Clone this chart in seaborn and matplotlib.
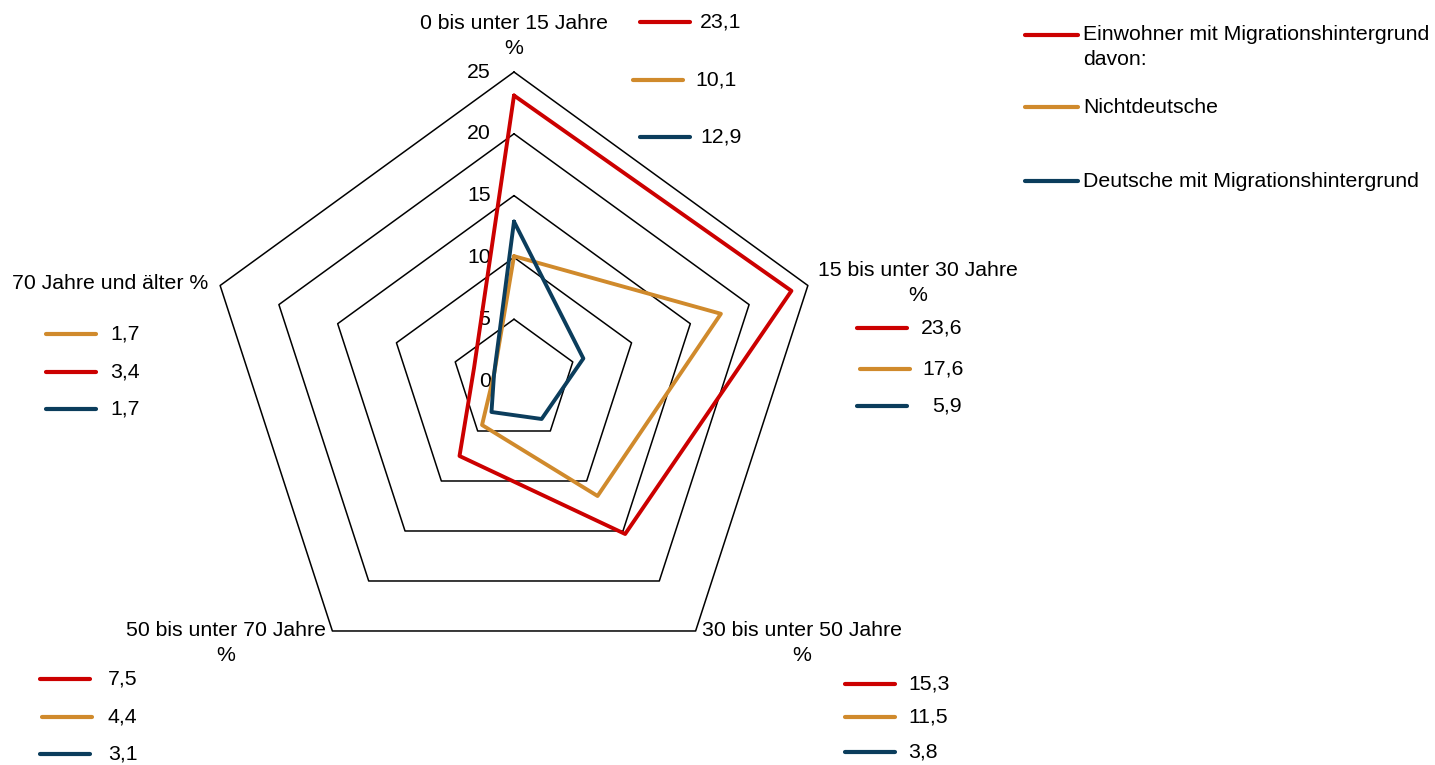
import numpy as np
import pandas as pd
import matplotlib
matplotlib.use("Agg")
import matplotlib.pyplot as plt
import seaborn as sns

# Daten: Anteile in % je Altersgruppe
categories = ["0 bis unter 15 Jahre\n%", "15 bis unter 30 Jahre\n%",
              "30 bis unter 50 Jahre\n%", "50 bis unter 70 Jahre\n%",
              "70 Jahre und älter %"]
series = ["Einwohner mit Migrationshintergrund\ndavon:", "Nichtdeutsche",
          "Deutsche mit Migrationshintergrund"]
einwohner_mh = [23.1, 23.6, 15.3, 7.5, 3.4]
nichtdeutsche = [10.1, 17.6, 11.5, 4.4, 1.7]
deutsche_mh = [12.9, 5.9, 3.8, 3.1, 1.7]
ticks = [0, 5, 10, 15, 20, 25]
colors = ["#CC0000", "#D08A2C", "#0B3D5C"]

values = [einwohner_mh, nichtdeutsche, deutsche_mh]

sns.set_style("white")
plt.rcParams["font.family"] = ["Liberation Sans", "DejaVu Sans"]
plt.rcParams["text.color"] = "black"
FS = 15.3
LS = 1.4

W, H = 1435, 765
fig = plt.figure(figsize=(W / 100, H / 100), dpi=100)

# Radar-Achse: Mittelpunkt bei (514, 381) px, 25 % = 309 px
cx, cy, px_per_unit, R = 514, 381, 12.36, 26
side = 2 * R * px_per_unit
ax = fig.add_axes([(cx - side / 2) / W, (H - cy - side / 2) / H, side / W, side / H])
ax.set_xlim(-R, R)
ax.set_ylim(-R, R)
ax.set_aspect("equal")
ax.axis("off")

n = len(categories)
theta = np.pi / 2 - 2 * np.pi * np.arange(n) / n
theta_closed = np.append(theta, theta[0])

# Gitter als Fünfecke
for t in ticks[1:]:
    ax.plot(t * np.cos(theta_closed), t * np.sin(theta_closed), color="black", lw=1.1, zorder=1)
for t in ticks:
    ax.text(-1.9, t, str(t), ha="right", va="center", fontsize=FS, color="black")

rows = []
for name, vals in zip(series, values):
    v = np.append(vals, vals[0])
    for k in range(n + 1):
        rows.append({"serie": name, "x": v[k] * np.cos(theta_closed[k]),
                     "y": v[k] * np.sin(theta_closed[k]), "order": k})
df = pd.DataFrame(rows)

sns.lineplot(data=df, x="x", y="y", hue="serie", palette=dict(zip(series, colors)),
             sort=False, estimator=None, lw=2.8, legend=False, ax=ax, zorder=3)
ax.set_xlim(-R, R)
ax.set_ylim(-R, R)
ax.axis("off")

# Overlay in Pixelkoordinaten für Beschriftungen
ov = fig.add_axes([0, 0, 1, 1], facecolor="none")
ov.set_xlim(0, W)
ov.set_ylim(H, 0)
ov.axis("off")

label_pos = [(514, 36), (918, 283), (802, 643), (226, 643), (110, 283)]
for lab, (x, y) in zip(categories, label_pos):
    ov.text(x, y, lab, ha="center", va="center", fontsize=FS, linespacing=LS, color="black")

# Mini-Legenden je Kategorie: (Serie, x0, x1, y, Textx)
mini = [
    [(0, 640, 690, 22, 700), (1, 633, 683, 80, 695), (2, 640, 690, 137, 700)],
    [(0, 857, 907, 328, 921), (1, 860, 910, 369, 922), (2, 857, 907, 406, 932)],
    [(0, 845, 895, 684, 908), (1, 845, 895, 717, 908), (2, 845, 895, 752, 908)],
    [(0, 40, 90, 679, 108), (1, 42, 92, 717, 108), (2, 40, 90, 754, 108)],
    [(1, 46, 96, 334, 110), (0, 46, 96, 372, 110), (2, 46, 96, 409, 110)],
]
for ci, group in enumerate(mini):
    for si, x0, x1, y, tx in group:
        ov.plot([x0, x1], [y, y], color=colors[si], lw=3, solid_capstyle="round")
        txt = f"{values[si][ci]:.1f}".replace(".", ",")
        ov.text(tx, y, txt, ha="left", va="center", fontsize=FS, color="black")

# Hauptlegende
for si, y in zip(range(3), [35, 107, 181]):
    ov.plot([1025, 1078], [y, y], color=colors[si], lw=3, solid_capstyle="round")
    lab = series[si]
    yy = y + 12 if "\n" in lab else y
    ov.text(1083, yy, lab, ha="left", va="center", fontsize=FS, linespacing=LS, color="black")

fig.savefig("out.png", dpi=100)
